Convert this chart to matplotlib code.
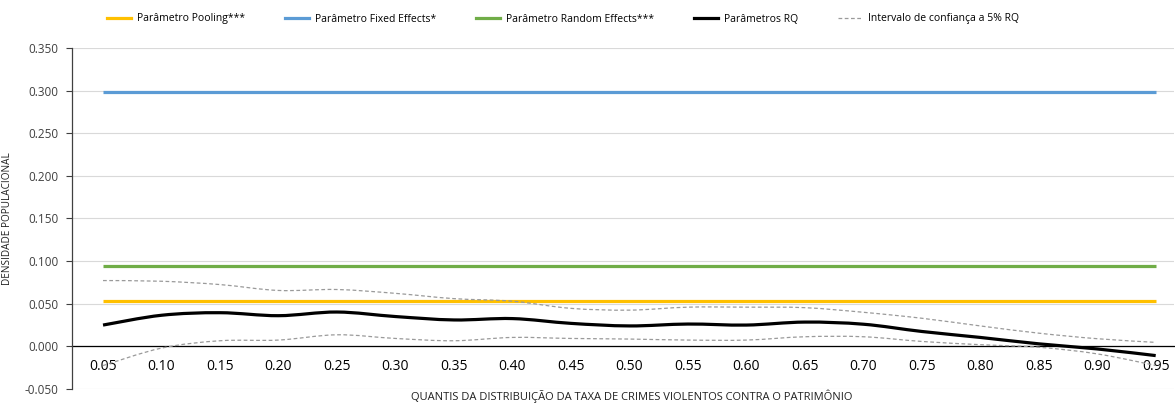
import numpy as np
import matplotlib.pyplot as plt
from matplotlib.path import Path
from matplotlib.patches import PathPatch
from matplotlib.lines import Line2D

plt.rcParams['font.family'] = ['Open Sans', 'DejaVu Sans']

# Data
quantis = [0.05, 0.10, 0.15, 0.20, 0.25, 0.30, 0.35, 0.40, 0.45, 0.50,
           0.55, 0.60, 0.65, 0.70, 0.75, 0.80, 0.85, 0.90, 0.95]
tick_labels = [f'{q:.2f}' for q in quantis]
pooling = 0.053
fixed_effects = 0.298
random_effects = 0.094
rq = [0.025, 0.0365, 0.0395, 0.036, 0.0403, 0.035, 0.031, 0.0326, 0.027, 0.024,
      0.0262, 0.025, 0.0285, 0.026, 0.0175, 0.0105, 0.003, -0.003, -0.0108]
ci_upper = [0.0772, 0.0764, 0.0725, 0.0656, 0.0667, 0.0622, 0.056, 0.053, 0.0446, 0.0425,
            0.046, 0.046, 0.0454, 0.040, 0.033, 0.024, 0.0155, 0.009, 0.0047]
ci_lower = [-0.0225, -0.002, 0.0066, 0.0074, 0.0136, 0.0093, 0.0066, 0.0105, 0.0093, 0.0086,
            0.0074, 0.0074, 0.0113, 0.0113, 0.0058, 0.002, -0.001, -0.0088, -0.0224]

legend_labels = ['Parâmetro Pooling***', 'Parâmetro Fixed Effects*',
                 'Parâmetro Random Effects***', 'Parâmetros RQ',
                 'Intervalo de confiança a 5% RQ']

YELLOW = '#FFC000'
BLUE = '#5B9BD5'
GREEN = '#70AD47'
GREY = '#9A9A9A'


def smooth_path(xs, ys):
    # Excel-like smoothed line: bezier segments with catmull-rom control points
    xs = np.asarray(xs, float)
    ys = np.asarray(ys, float)
    pts = np.column_stack([xs, ys])
    verts = [pts[0]]
    codes = [Path.MOVETO]
    n = len(pts)
    for i in range(n - 1):
        p0 = pts[max(i - 1, 0)]
        p1 = pts[i]
        p2 = pts[i + 1]
        p3 = pts[min(i + 2, n - 1)]
        c1 = p1 + (p2 - p0) / 6.0
        c2 = p2 - (p3 - p1) / 6.0
        verts += [c1, c2, p2]
        codes += [Path.CURVE4] * 3
    return Path(verts, codes)


fig = plt.figure(figsize=(11.75, 4.03), dpi=100)
ax = fig.add_axes([0.0613, 0.0347, 0.9377, 0.8463])

x = np.arange(1, len(quantis) + 1)

ax.plot([x[0], x[-1]], [pooling, pooling], color=YELLOW, lw=2.3, solid_capstyle='butt', zorder=3)
ax.plot([x[0], x[-1]], [fixed_effects, fixed_effects], color=BLUE, lw=2.3, solid_capstyle='butt', zorder=3)
ax.plot([x[0], x[-1]], [random_effects, random_effects], color=GREEN, lw=2.3, solid_capstyle='butt', zorder=3)

ax.add_patch(PathPatch(smooth_path(x, ci_upper), fill=False, edgecolor=GREY, lw=0.9, ls=(0, (3, 2)), zorder=4))
ax.add_patch(PathPatch(smooth_path(x, ci_lower), fill=False, edgecolor=GREY, lw=0.9, ls=(0, (3, 2)), zorder=4))
ax.add_patch(PathPatch(smooth_path(x, rq), fill=False, edgecolor='black', lw=2.3, zorder=5))

ax.set_xlim(0.47, 19.31)
ax.set_ylim(-0.05, 0.35)
ax.set_yticks(np.arange(-0.05, 0.351, 0.05))
ax.set_yticklabels([f'{v:.3f}' for v in np.arange(-0.05, 0.351, 0.05)], fontsize=8.5, color='#404040')
ax.yaxis.grid(True, color='#D9D9D9', lw=0.8)
ax.set_axisbelow(True)

ax.set_xticks(x)
ax.set_xticklabels(tick_labels, fontsize=8.5, color='#404040')
ax.spines['bottom'].set_position(('data', 0))
ax.spines['bottom'].set_color('black')
ax.spines['bottom'].set_linewidth(0.9)
ax.spines['bottom'].set_zorder(2)
ax.tick_params(axis='x', length=0, pad=9)
ax.tick_params(axis='y', length=4, color='#404040', direction='out', pad=6)
ax.spines['left'].set_color('#404040')
ax.spines['left'].set_linewidth(0.9)
for s in ['top', 'right']:
    ax.spines[s].set_visible(False)

ax.set_ylabel('DENSIDADE POPULACIONAL', fontsize=7.2, color='#202020', labelpad=8)
fig.text(632 / 1175, 1 - 396 / 403, 'QUANTIS DA DISTRIBUIÇÃO DA TAXA DE CRIMES VIOLENTOS CONTRA O PATRIMÔNIO',
         fontsize=8, color='#202020', ha='center', va='center')

handles = [Line2D([], [], color=YELLOW, lw=2.3),
           Line2D([], [], color=BLUE, lw=2.3),
           Line2D([], [], color=GREEN, lw=2.3),
           Line2D([], [], color='black', lw=2.3),
           Line2D([], [], color=GREY, lw=0.9, ls=(0, (3, 2)))]
fig.legend(handles, legend_labels, loc='center', bbox_to_anchor=(563 / 1175, 1 - 19 / 403), ncol=5,
           frameon=False, fontsize=7.5, handlelength=2.3, handletextpad=0.55, columnspacing=3.85)

fig.savefig('out.png', dpi=100)
